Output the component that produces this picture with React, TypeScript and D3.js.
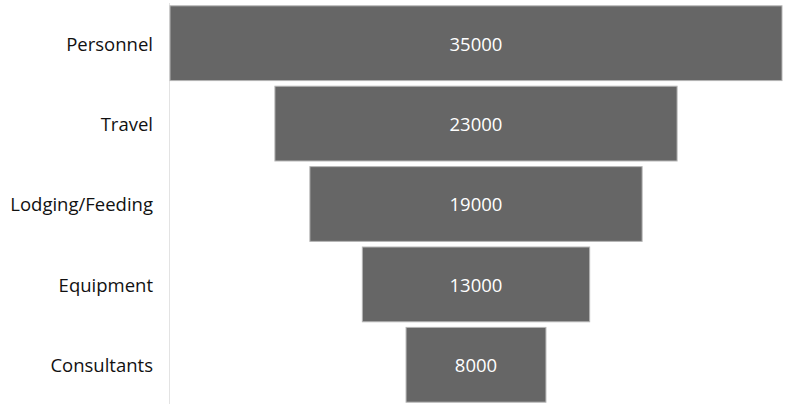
import React from 'react';
import * as d3 from 'd3';

const categories = ['Personnel', 'Travel', 'Lodging/Feeding', 'Equipment', 'Consultants'];
const values = [35000, 23000, 19000, 13000, 8000];

const W = 787;
const H = 414;
const axisX = 170;
const plotRight = 782;

const App: React.FC = () => {
  const y = d3.scaleBand<string>()
    .domain(categories)
    .range([3, 405])
    .paddingInner(0.07)
    .paddingOuter(0.035);

  const w = d3.scaleLinear()
    .domain([0, d3.max(values) || 0])
    .range([0, plotRight - axisX]);

  const center = (axisX + plotRight) / 2;

  return (
    <svg width={W} height={H} style={{ position: 'absolute', left: 0, top: 0, fontFamily: '"Open Sans", "Noto Sans", sans-serif' }}>
      <rect width={W} height={H} fill="#ffffff" />
      <line x1={axisX - 0.5} x2={axisX - 0.5} y1={3} y2={404} stroke="#e3e3e3" strokeWidth={1} />
      {categories.map((c, i) => {
        const by = y(c) || 0;
        const bw = w(values[i]);
        const cy = by + y.bandwidth() / 2 + 1;
        return (
          <g key={c}>
            <rect
              x={center - bw / 2}
              y={by}
              width={bw}
              height={y.bandwidth()}
              fill="#666666"
              stroke="#b5b5b5"
              strokeWidth={1}
            />
            <text x={center} y={cy} dy="0.35em" textAnchor="middle" fill="#ffffff" fontSize={18.5}>
              {values[i]}
            </text>
            <text x={153} y={cy} dy="0.35em" textAnchor="end" fill="#111111" fontSize={18.5} textLength={undefined}>
              {c}
            </text>
          </g>
        );
      })}
    </svg>
  );
};

export default App;
